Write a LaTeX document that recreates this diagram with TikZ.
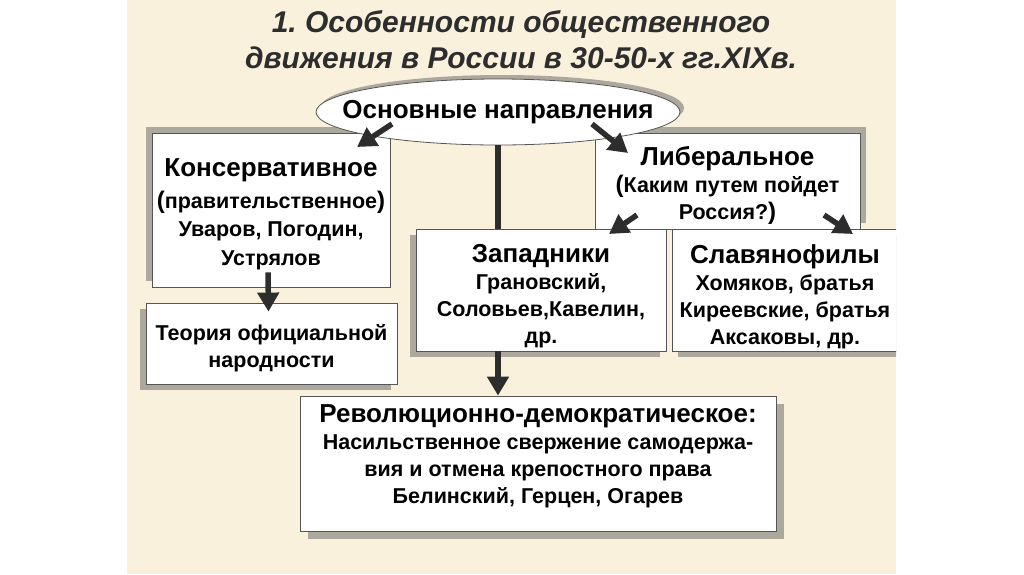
\documentclass[tikz,border=0pt]{standalone}
\usepackage{fontspec}
\setmainfont{Liberation Sans}
\usetikzlibrary{arrows.meta,positioning,shapes.geometric,shadows}

\definecolor{paper}{RGB}{250,241,221}
\definecolor{shade}{RGB}{172,168,158}
\definecolor{ink}{RGB}{45,45,45}
\definecolor{edge}{RGB}{85,85,85}

\newcommand\slidetitle{\fontsize{30}{36}\selectfont\bfseries\itshape}
\newcommand\boxhead{\fontsize{26}{27}\selectfont\bfseries}
\newcommand\boxbody{\fontsize{21.5}{27}\selectfont\bfseries}
\newcommand\bigpar[1]{{\fontsize{24}{27}\selectfont#1}}

\begin{document}
\begin{tikzpicture}[x=1pt, y=-1pt,
    box/.style={rectangle, draw=edge, line width=0.8pt, fill=white, inner sep=0pt},
    txt/.style={align=center, inner sep=0pt, anchor=north, font=\boxbody, text=black},
    oval/.style={ellipse, draw=edge, line width=0.8pt, fill=white, inner sep=0pt},
    shadowed/.style 2 args={drop shadow={shadow xshift=#1, shadow yshift=#2, fill=shade, opacity=1}},
    arr/.style={-{Triangle[width=21pt,length=19pt]}, line width=5.5pt, draw=ink},
    bar/.style={line width=5.5pt, draw=ink}
]
\useasboundingbox (0,0) rectangle (1024,574);
\fill[white] (0,0) rectangle (1024,574);
\fill[paper] (127,0) rectangle (896,574);

\begin{scope}
\clip (127,0) rectangle (896,574);

\node[font=\slidetitle, text=ink, align=center] (title) at (521,40)
    {1.\ Особенности общественного\\движения в России в 30-50-х гг.XIXв.};

% boxes
\node[box, shadowed={-6pt}{6pt}, minimum width=238pt, minimum height=154pt] (cons) at (271,210) {};
\node[box, shadowed={-6pt}{-6pt}, minimum width=251pt, minimum height=81pt] (teo) at (271.5,343.5) {};
\node[box, shadowed={6pt}{6pt}, minimum width=265pt, minimum height=96pt] (lib) at (727.5,181) {};
\node[box, shadowed={-6pt}{-6pt}, minimum width=250pt, minimum height=122pt] (zap) at (541,290) {};
\node[box, shadowed={6pt}{-6pt}, minimum width=226pt, minimum height=122pt] (slav) at (785,290) {};
\node[box, shadowed={8pt}{-8pt}, minimum width=476pt, minimum height=135pt] (rev) at (538,463.5) {};

% texts
\node[txt, font=\fontsize{21.5}{28.5}\selectfont\bfseries] (consT) at ([yshift=-26pt]cons.north)
    {{\boxhead Консервативное}\\[3pt]\bigpar(правительственное\bigpar)\\Уваров, Погодин,\\Устрялов};
\node[txt] (teoT) at ([yshift=-22pt]teo.north)
    {Теория официальной\\народности};
\node[txt] (libT) at ([yshift=-14pt]lib.north)
    {{\boxhead Либеральное}\\\bigpar(Каким путем пойдет\\Россия?\bigpar)};
\node[txt] (zapT) at ([yshift=-16pt]zap.north)
    {{\boxhead Западники}\\Грановский,\\Соловьев,Кавелин,\\др.};
\node[txt] (slavT) at ([yshift=-16pt]slav.north)
    {{\boxhead Славянофилы}\\Хомяков, братья\\Киреевские, братья\\Аксаковы, др.};
\node[txt] (revT) at ([yshift=-9pt]rev.north)
    {{\boxhead Революционно-демократическое:}\\Насильственное свержение самодержа-\\вия и отмена крепостного права\\Белинский, Герцен, Огарев};

\node[oval, shadowed={4pt}{4pt}, minimum width=364pt, minimum height=66pt] (main) at (498,112) {};
\node[font=\boxhead, inner sep=0pt] (mainT) at (main.center) {Основные направления};

% connectors
\coordinate (m1) at (392,124);
\coordinate (m2) at (357,147);
\coordinate (m3) at (592,124);
\coordinate (m4) at (628,153);
\coordinate (l1) at (637,215);
\coordinate (l2) at (609,234);
\coordinate (l3) at (824,215);
\coordinate (l4) at (853,234);

\draw[arr] (m1) -- (m2);
\draw[arr] (m3) -- (m4);
\draw[arr] (l1) -- (l2);
\draw[arr] (l3) -- (l4);
\draw[bar] (main.south) -- (main.south |- zap.north);
\draw[arr] (main.south |- zap.south) -- (main.south |- rev.north);
\draw[arr] ([xshift=-3pt,yshift=15pt]cons.south) -- ([xshift=-3pt,yshift=-9pt]teo.north);
\end{scope}
\end{tikzpicture}
\end{document}
